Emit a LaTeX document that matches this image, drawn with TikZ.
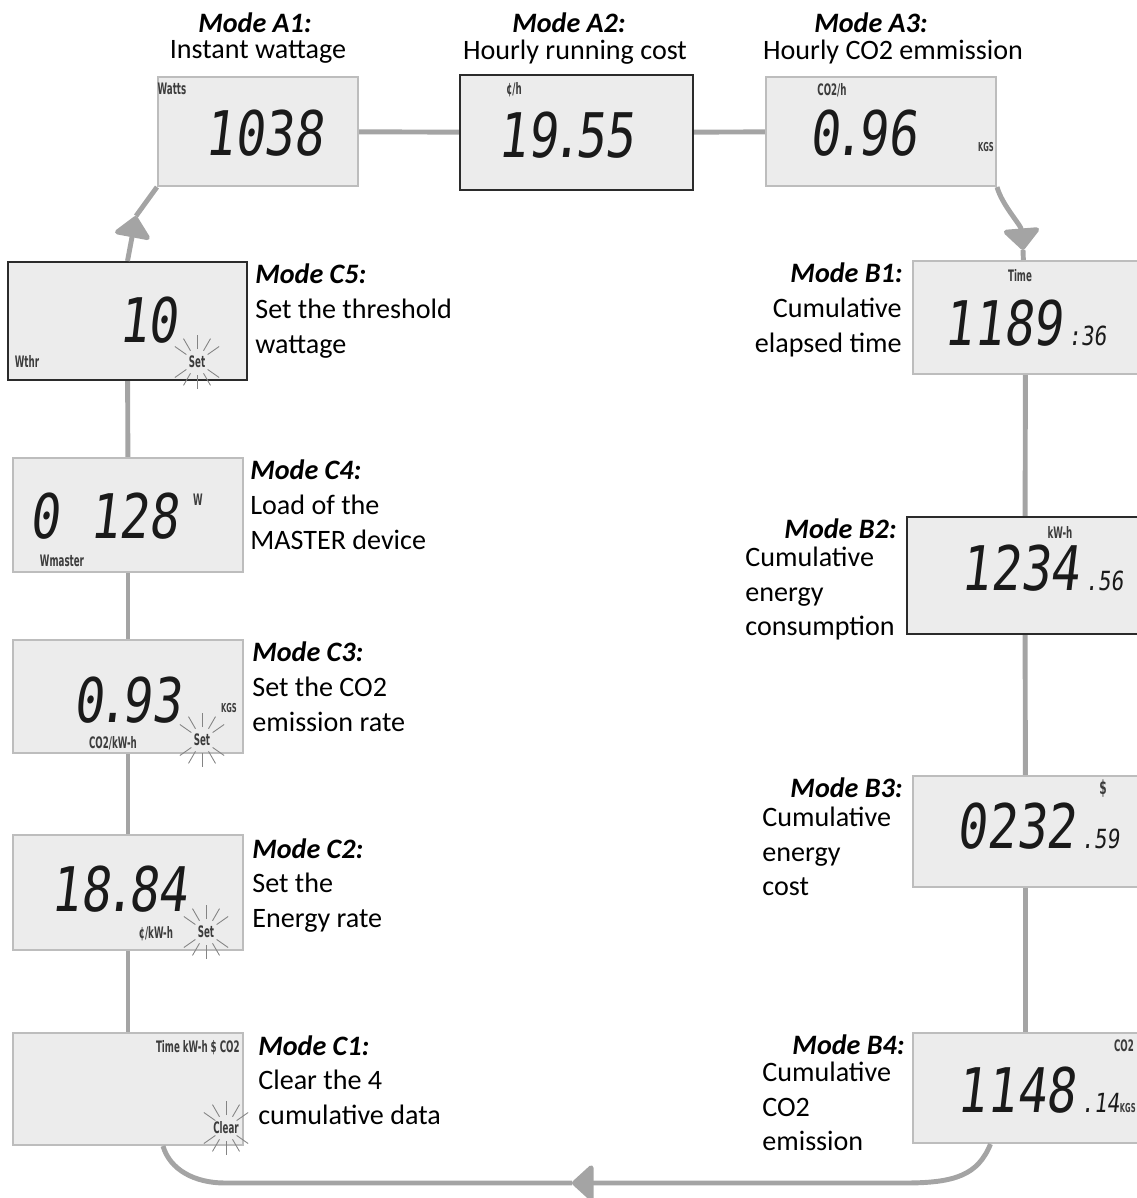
\documentclass[tikz,border=0pt]{standalone}
\usepackage{fontspec}
\setmainfont{Carlito}
\newfontfamily\lcdfont[FakeSlant=0.12, FakeStretch=0.8]{DejaVu Sans Mono}
\newfontfamily\segfont[FakeStretch=0.55]{DejaVu Sans}
\usetikzlibrary{arrows.meta, calc}
\definecolor{lcdfill}{HTML}{ECECEC}
\definecolor{lcdedge}{HTML}{BDBDBD}
\definecolor{lcddark}{HTML}{2B2B2B}
\definecolor{wire}{HTML}{A4A4A4}
\definecolor{lcdink}{HTML}{1A1A1A}
\tikzset{
  lcd/.style={draw=lcdedge, fill=lcdfill, line width=1.2pt, minimum width=4.6cm, minimum height=2.24cm, inner sep=0pt},
  lcdbold/.style={lcd, draw=lcddark},
  lcdnum/.style={font=\lcdfont\fontsize{35}{35}\selectfont, text=lcdink, inner sep=0pt},
  lcdsmall/.style={font=\lcdfont\fontsize{15}{15}\selectfont, text=lcdink, inner sep=0pt},
  lcdunit/.style={font=\segfont\bfseries\fontsize{9}{9}\selectfont, text=lcdink!85, inner sep=0pt},
  modetitle/.style={font=\bfseries\itshape\fontsize{16}{19.5}\selectfont, inner sep=0pt},
  modetext/.style={font=\fontsize{16}{19.5}\selectfont, inner sep=0pt},
  flow/.style={draw=wire, line width=2.8pt},
  flowtip/.style={flow, -{Triangle[width=23pt, length=13pt, round]}},
}
\newcommand\segdot{\makebox[0.3em]{.}}
% rays round a flashing label
\newcommand\blink[1]{%
  \foreach \a in {35,60,90,120,145,215,240,270,300,325}
    \draw[lcdedge!70!black, line width=0.5pt] ($(#1)+(\a:13)$) -- ($(#1)+(\a:27)$);
}

\begin{document}
\begin{tikzpicture}[x=0.02cm, y=-0.02cm]
  \useasboundingbox (0,0) rectangle (1137,1198);
  \clip (0,0) rectangle (1137,1198);

  % displays
  \node[lcd, minimum width=4cm, minimum height=2.18cm] (a1) at (258,131.5) {};
  \node[lcdbold, minimum width=4.66cm, minimum height=2.3cm] (a2) at (576.5,132.5) {};
  \node[lcd, minimum height=2.18cm] (a3) at (881,131.5) {};
  \node[lcd, minimum width=4.5cm, minimum height=2.26cm] (b1) at (1025.5,317.5) {};
  \node[lcdbold, minimum width=4.72cm, minimum height=2.34cm] (b2) at (1025,575.5) {};
  \node[lcd, minimum width=4.5cm, minimum height=2.22cm] (b3) at (1025.5,831.5) {};
  \node[lcd, minimum width=4.5cm, minimum height=2.2cm] (b4) at (1025.5,1088) {};
  \node[lcdbold, minimum width=4.78cm, minimum height=2.36cm] (c5) at (127.5,321) {};
  \node[lcd, minimum height=2.28cm] (c4) at (128,515) {};
  \node[lcd, minimum height=2.26cm] (c3) at (128,696.5) {};
  \node[lcd, minimum height=2.3cm] (c2) at (128,892.5) {};
  \node[lcd] (c1) at (128,1089) {};

  % cycle
  \draw[flow] (a1) -- (a2);
  \draw[flow] (a2) -- (a3);
  \coordinate (tipB) at (1023,250);
  \draw[flowtip] (a3.south east) .. controls (1002,205) and (1021,225) .. (tipB);
  \draw[flow] (tipB) -- (b1);
  \foreach \p/\q in {b1/b2, b2/b3, b3/b4, c1/c2, c2/c3, c3/c4, c4/c5}
    \draw[flow] (\p) -- (\q);
  \coordinate (botR) at (905,1183);
  \coordinate (tipC) at (572,1183);
  \coordinate (botL) at (225,1183);
  \draw[flowtip] ($(b4.south)+(-35,0)$) .. controls (978,1175) and (955,1183) .. (botR) -- (tipC);
  \draw[flow] (tipC) -- (botL) .. controls (195,1183) and (170,1170) .. ($(c1.south)+(35,0)$);
  \coordinate (tipA) at (136,216);
  \draw[flowtip] (c5.north) -- (tipA);
  \draw[flow] (tipA) -- (a1.south west);

  % readings
  \node[lcdunit] (a1u) at (172,89) {Watts};
  \node[lcdnum] (a1v) at (264,133) {1038};
  \node[lcdunit] (a2u) at (514,90) {¢/h};
  \node[lcdnum] (a2v) at (566,135) {19\segdot55};
  \node[lcdunit] (a3u) at (832,90) {CO2/h};
  \node[lcdnum] (a3v) at (863,133) {0\segdot96};
  \node[lcdunit, font=\segfont\bfseries\fontsize{7}{7}\selectfont] (a3k) at (986,147) {KGS};

  \node[lcdunit] (b1u) at (1020,276) {Time};
  \node[lcdnum] (b1v) at (1003,323) {1189};
  \node[lcdsmall, anchor=base west, xshift=3pt] (b1s) at (b1v.base east) {:36};
  \node[lcdunit] (b2u) at (1060,532) {kW-h};
  \node[lcdnum] (b2v) at (1020,568) {1234};
  \node[lcdsmall, anchor=base west, xshift=3pt] (b2s) at (b2v.base east) {.56};
  \node[lcdunit, font=\segfont\bfseries\fontsize{11}{11}\selectfont] (b3u) at (1103,789) {\$};
  \node[lcdnum] (b3v) at (1016,826) {0232};
  \node[lcdsmall, anchor=base west, xshift=3pt] (b3s) at (b3v.base east) {.59};
  \node[lcdunit] (b4u) at (1124,1046) {CO2};
  \node[lcdnum] (b4v) at (1016,1090) {1148};
  \node[lcdsmall, anchor=base west, xshift=3pt] (b4s) at (b4v.base east) {.14};
  \node[lcdunit, font=\segfont\bfseries\fontsize{7}{7}\selectfont, anchor=base west] (b4k) at (b4s.base east) {KGS};

  \node[lcdnum] (c5v) at (148,320) {10};
  \node[lcdunit] (c5u) at (27,361) {Wthr};
  \node[lcdunit] (c5s) at (197,362) {Set};
  \blink{c5s}
  \node[lcdnum] (c4v) at (104,516) {0 128};
  \node[lcdunit] (c4u) at (198,500) {W};
  \node[lcdunit] (c4m) at (62,561) {Wmaster};
  \node[lcdnum] (c3v) at (127,700) {0\segdot93};
  \node[lcdunit, font=\segfont\bfseries\fontsize{7}{7}\selectfont] (c3k) at (229,708) {KGS};
  \node[lcdunit] (c3u) at (113,743) {CO2/kW-h};
  \node[lcdunit] (c3s) at (202,740) {Set};
  \blink{c3s}
  \node[lcdnum] (c2v) at (119,889) {18\segdot84};
  \node[lcdunit] (c2u) at (156,934) {¢/kW-h};
  \node[lcdunit] (c2s) at (206,932) {Set};
  \blink{c2s}
  \node[lcdunit, anchor=east] (c1u) at (240,1048) {Time kW-h \$ CO2};
  \node[lcdunit] (c1s) at (226,1128) {Clear};
  \blink{c1s}

  % mode labels
  \node[modetitle, anchor=north] (a1t) at (255,12) {Mode A1:};
  \node[modetext, anchor=north] (a1d) at (258,40) {Instant wattage};
  \node[modetitle, anchor=north] (a2t) at (569,12) {Mode A2:};
  \node[modetext, anchor=north] (a2d) at (575,40) {Hourly running cost};
  \node[modetitle, anchor=north] (a3t) at (871,12) {Mode A3:};
  \node[modetext, anchor=north] (a3d) at (893,40) {Hourly CO2 emmission};

  \node[modetitle, anchor=north east] (b1t) at (903,262) {Mode B1:};
  \node[modetext, anchor=north east, align=right] (b1d) at (902,298) {Cumulative\\elapsed time};
  \node[modetitle, anchor=north east] (b2t) at (897,518) {Mode B2:};
  \node[modetext, anchor=north west, align=left] (b2d) at (745,547) {Cumulative\\energy\\consumption};
  \node[modetitle, anchor=north east] (b3t) at (903,777) {Mode B3:};
  \node[modetext, anchor=north west, align=left] (b3d) at (762,807) {Cumulative\\energy\\cost};
  \node[modetitle, anchor=north east] (b4t) at (905,1034) {Mode B4:};
  \node[modetext, anchor=north west, align=left] (b4d) at (762,1062) {Cumulative\\CO2\\emission};

  \node[modetitle, anchor=north west] (c5t) at (255,263) {Mode C5:};
  \node[modetext, anchor=north west, align=left] (c5d) at (255,299) {Set the threshold\\wattage};
  \node[modetitle, anchor=north west] (c4t) at (250,459) {Mode C4:};
  \node[modetext, anchor=north west, align=left] (c4d) at (250,495) {Load of the\\MASTER device};
  \node[modetitle, anchor=north west] (c3t) at (252,641) {Mode C3:};
  \node[modetext, anchor=north west, align=left] (c3d) at (252,677) {Set the CO2\\emission rate};
  \node[modetitle, anchor=north west] (c2t) at (252,838) {Mode C2:};
  \node[modetext, anchor=north west, align=left] (c2d) at (252,873) {Set the\\Energy rate};
  \node[modetitle, anchor=north west] (c1t) at (258,1035) {Mode C1:};
  \node[modetext, anchor=north west, align=left] (c1d) at (258,1070) {Clear the 4\\cumulative data};
\end{tikzpicture}
\end{document}
